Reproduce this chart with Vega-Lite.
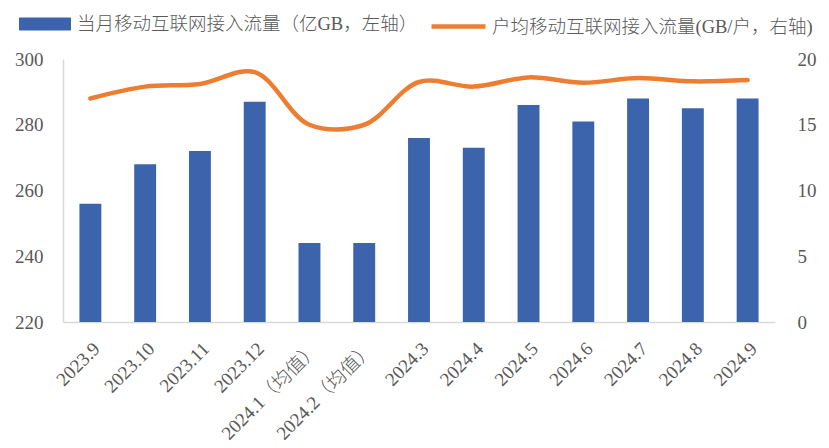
{
  "$schema": "https://vega.github.io/schema/vega-lite/v6.json",
  "autosize": {"type": "none"},
  "width": 712,
  "height": 263,
  "padding": {"left": 63, "top": 59, "right": 54, "bottom": 126},
  "background": "white",
  "config": {
    "view": {"stroke": null},
    "font": "Liberation Serif, Noto Sans CJK SC",
    "axis": {
      "labelFont": "Liberation Serif, Noto Sans CJK SC",
      "labelColor": "#595959",
      "labelFontSize": 19,
      "labelFontWeight": 300,
      "ticks": false,
      "grid": false,
      "domainColor": "#d9d9d9",
      "domainWidth": 1.5,
      "title": null
    },
    "legend": {
      "labelFont": "Liberation Serif, Noto Sans CJK SC",
      "labelColor": "#595959",
      "labelFontSize": 18.5,
      "labelFontWeight": 300,
      "labelLimit": 0,
      "title": null
    }
  },
  "data": {
    "values": [
      {"month": "2023.9", "total": 256, "avg": 17.0, "s1": "当月移动互联网接入流量（亿GB，左轴）", "s2": "户均移动互联网接入流量(GB/户，右轴)"},
      {"month": "2023.10", "total": 268, "avg": 17.9, "s1": "当月移动互联网接入流量（亿GB，左轴）", "s2": "户均移动互联网接入流量(GB/户，右轴)"},
      {"month": "2023.11", "total": 272, "avg": 18.1, "s1": "当月移动互联网接入流量（亿GB，左轴）", "s2": "户均移动互联网接入流量(GB/户，右轴)"},
      {"month": "2023.12", "total": 287, "avg": 19.0, "s1": "当月移动互联网接入流量（亿GB，左轴）", "s2": "户均移动互联网接入流量(GB/户，右轴)"},
      {"month": "2024.1（均值）", "total": 244, "avg": 15.0, "s1": "当月移动互联网接入流量（亿GB，左轴）", "s2": "户均移动互联网接入流量(GB/户，右轴)"},
      {"month": "2024.2（均值）", "total": 244, "avg": 15.0, "s1": "当月移动互联网接入流量（亿GB，左轴）", "s2": "户均移动互联网接入流量(GB/户，右轴)"},
      {"month": "2024.3", "total": 276, "avg": 18.25, "s1": "当月移动互联网接入流量（亿GB，左轴）", "s2": "户均移动互联网接入流量(GB/户，右轴)"},
      {"month": "2024.4", "total": 273, "avg": 17.9, "s1": "当月移动互联网接入流量（亿GB，左轴）", "s2": "户均移动互联网接入流量(GB/户，右轴)"},
      {"month": "2024.5", "total": 286, "avg": 18.6, "s1": "当月移动互联网接入流量（亿GB，左轴）", "s2": "户均移动互联网接入流量(GB/户，右轴)"},
      {"month": "2024.6", "total": 281, "avg": 18.2, "s1": "当月移动互联网接入流量（亿GB，左轴）", "s2": "户均移动互联网接入流量(GB/户，右轴)"},
      {"month": "2024.7", "total": 288, "avg": 18.55, "s1": "当月移动互联网接入流量（亿GB，左轴）", "s2": "户均移动互联网接入流量(GB/户，右轴)"},
      {"month": "2024.8", "total": 285, "avg": 18.3, "s1": "当月移动互联网接入流量（亿GB，左轴）", "s2": "户均移动互联网接入流量(GB/户，右轴)"},
      {"month": "2024.9", "total": 288, "avg": 18.4, "s1": "当月移动互联网接入流量（亿GB，左轴）", "s2": "户均移动互联网接入流量(GB/户，右轴)"}
    ]
  },
  "encoding": {
    "x": {
      "field": "month",
      "type": "nominal",
      "sort": null,
      "scale": {"paddingInner": 0.6, "paddingOuter": 0.3},
      "axis": {"labelAngle": -45, "labelPadding": 17}
    }
  },
  "layer": [
    {
      "mark": {"type": "bar", "clip": true},
      "encoding": {
        "y": {
          "field": "total",
          "type": "quantitative",
          "scale": {"domain": [220, 300], "zero": false, "nice": false},
          "axis": {"values": [220, 240, 260, 280, 300], "labelPadding": 20, "orient": "left"}
        },
        "fill": {
          "field": "s1",
          "type": "nominal",
          "scale": {"range": ["#3b64ad"]},
          "legend": {
            "orient": "none",
            "legendX": -44,
            "legendY": -61,
            "symbolType": "M-1,-0.25H1V0.25H-1Z",
            "symbolSize": 2704,
            "symbolStrokeWidth": 0,
            "symbolOpacity": 1,
            "labelOffset": 6
          }
        }
      }
    },
    {
      "mark": {"type": "line", "interpolate": "catmull-rom", "strokeWidth": 4.5, "strokeCap": "round"},
      "encoding": {
        "y": {
          "field": "avg",
          "type": "quantitative",
          "scale": {"domain": [0, 20], "nice": false},
          "axis": {"values": [0, 5, 10, 15, 20], "labelPadding": 22, "orient": "right", "domain": false}
        },
        "stroke": {
          "field": "s2",
          "type": "nominal",
          "scale": {"range": ["#ed7d31"]},
          "legend": {
            "orient": "none",
            "legendX": 366,
            "legendY": -62,
            "symbolType": "stroke",
            "symbolSize": 2916,
            "symbolStrokeWidth": 4.5,
            "labelOffset": 4
          }
        }
      }
    }
  ],
  "resolve": {"scale": {"y": "independent"}}
}
